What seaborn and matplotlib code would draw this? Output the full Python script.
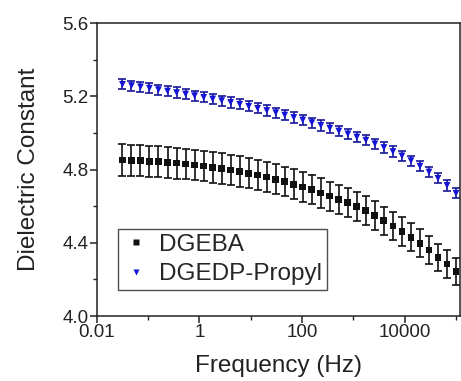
import numpy as np
import pandas as pd
import matplotlib
matplotlib.use("Agg")
import matplotlib.pyplot as plt
from matplotlib.ticker import NullFormatter, FixedLocator
import seaborn as sns

# ---- data ----
freq_hz = [0.0316, 0.0474, 0.0710, 0.106, 0.159, 0.239, 0.358, 0.537, 0.804,
           1.21, 1.81, 2.71, 4.06, 6.08, 9.11, 13.6, 20.5, 30.7, 45.9, 68.9,
           103, 155, 232, 347, 520, 780, 1168, 1751, 2623, 3932, 5893, 8830,
           13240, 19830, 29720, 44540, 66730, 100000]

dgeba = [4.852, 4.850, 4.848, 4.845, 4.842, 4.839, 4.835, 4.830, 4.825, 4.819,
         4.812, 4.805, 4.797, 4.789, 4.780, 4.770, 4.759, 4.747, 4.734, 4.720,
         4.705, 4.689, 4.672, 4.655, 4.638, 4.620, 4.598, 4.575, 4.550, 4.520,
         4.491, 4.462, 4.430, 4.397, 4.360, 4.320, 4.284, 4.242]
dgeba_err = [0.086, 0.086, 0.086, 0.085, 0.085, 0.085, 0.085, 0.084, 0.084, 0.084,
             0.084, 0.083, 0.083, 0.083, 0.082, 0.082, 0.082, 0.081, 0.081, 0.081,
             0.080, 0.080, 0.080, 0.079, 0.079, 0.079, 0.078, 0.078, 0.078, 0.077,
             0.077, 0.077, 0.076, 0.076, 0.075, 0.075, 0.074, 0.073]

dgedp = [5.265, 5.258, 5.251, 5.244, 5.236, 5.228, 5.220, 5.212, 5.203, 5.194,
         5.185, 5.176, 5.166, 5.156, 5.145, 5.134, 5.122, 5.110, 5.097, 5.084,
         5.070, 5.056, 5.041, 5.026, 5.010, 4.994, 4.977, 4.960, 4.940, 4.920,
         4.898, 4.874, 4.848, 4.818, 4.786, 4.752, 4.713, 4.670]
dgedp_err = [0.028] * len(dgedp)

labels = ["DGEBA", "DGEDP-Propyl"]

x_ticks = [0.01, 1, 100, 10000]
x_ticklabels = ["0.01", "1", "100", "10000"]
y_ticks = [4.0, 4.4, 4.8, 5.2, 5.6]
y_ticklabels = ["4.0", "4.4", "4.8", "5.2", "5.6"]

df = pd.DataFrame({
    "freq": freq_hz * 2,
    "eps": dgeba + dgedp,
    "err": dgeba_err + dgedp_err,
    "sample": [labels[0]] * len(dgeba) + [labels[1]] * len(dgedp),
})

# ---- style ----
sns.set_style("ticks")
plt.rcParams["font.family"] = ["Liberation Sans", "DejaVu Sans"]

fig = plt.figure(figsize=(4.61, 3.81), dpi=100)
ax = fig.add_axes([0.210, 0.1706, 0.788, 0.769])

colors = {"DGEBA": "#111111", "DGEDP-Propyl": "#1414d8"}
ecolors = {"DGEBA": "#111111", "DGEDP-Propyl": "#18189a"}

for name, sub in df.groupby("sample"):
    ax.errorbar(sub["freq"], sub["eps"], yerr=sub["err"], fmt="none",
                ecolor=ecolors[name], elinewidth=1.2, capsize=2.6, capthick=1.2,
                zorder=2)

sns.scatterplot(data=df, x="freq", y="eps", hue="sample", style="sample",
                hue_order=labels, style_order=labels,
                palette=colors, markers={"DGEBA": "s", "DGEDP-Propyl": "v"},
                s=24, edgecolor="none", ax=ax, zorder=3)

ax.set_xscale("log")
ax.set_xlim(0.01, 1.2e5)
ax.set_ylim(4.0, 5.6)

ax.xaxis.set_major_locator(FixedLocator(x_ticks))
ax.xaxis.set_minor_locator(FixedLocator([0.1, 10, 1000, 100000]))
ax.xaxis.set_minor_formatter(NullFormatter())
ax.set_xticklabels(x_ticklabels)
ax.yaxis.set_major_locator(FixedLocator(y_ticks))
ax.yaxis.set_minor_locator(FixedLocator([4.2, 4.6, 5.0, 5.4]))
ax.set_yticklabels(y_ticklabels)

ax.tick_params(axis="both", which="major", direction="out", length=5, width=1.1,
               labelsize=13.5, pad=1, colors="#222222")
ax.tick_params(axis="both", which="minor", direction="out", length=3, width=1.0,
               colors="#222222")
ax.tick_params(top=False, right=False, which="both")

for sp in ax.spines.values():
    sp.set_visible(True)
    sp.set_linewidth(1.1)
    sp.set_color("#222222")

ax.set_xlabel("Frequency (Hz)", fontsize=17.5, labelpad=10, color="#222222")
ax.set_ylabel("Dielectric Constant", fontsize=17.5, labelpad=16, color="#222222")

leg = ax.legend(loc="upper left", bbox_to_anchor=(0.058, 0.297),
                borderaxespad=0, frameon=True, fancybox=False, fontsize=17.5,
                handletextpad=0.4, borderpad=0.2, labelspacing=0.3,
                markerscale=0.75, handlelength=1.1)
leg.get_frame().set_edgecolor("#222222")
leg.get_frame().set_linewidth(1.0)

fig.savefig("out.png", dpi=100)
